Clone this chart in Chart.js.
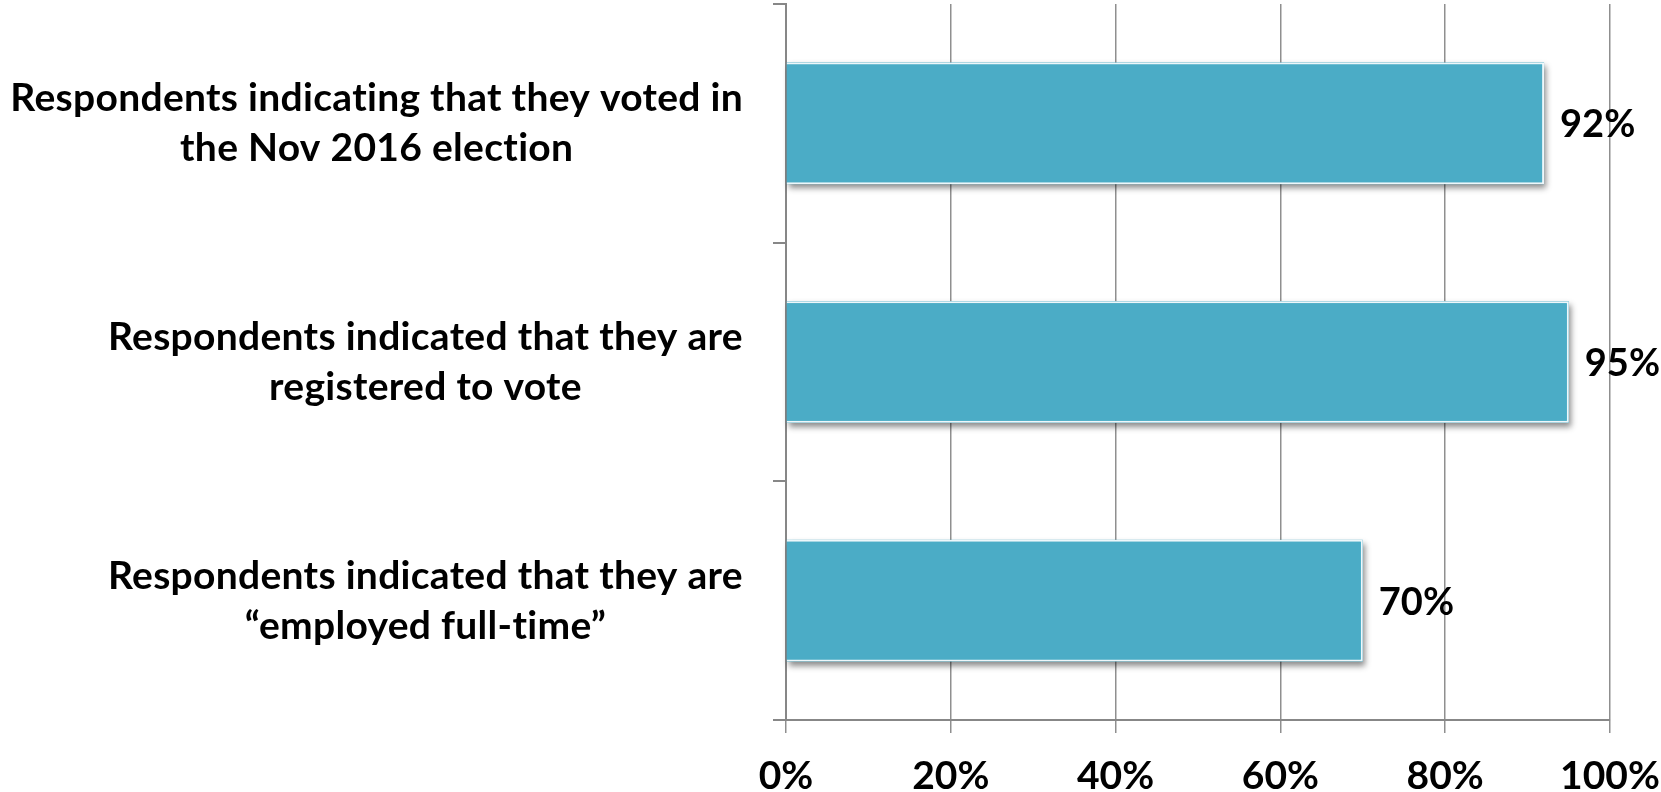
<!DOCTYPE html>
<html>
  <head>
    <title>Survey Respondents</title>
    <script src="https://cdn.jsdelivr.net/npm/chart.js"></script>
    <style>
      html, body { margin: 0; padding: 0; background: #fff; }
      #wrap { width: 1661px; height: 792px; }
    </style>
  </head>
  <body>
    <div id="wrap"><canvas id="surveyChart"></canvas></div>

    <script>
      // Category labels, one array of lines per bar
      var categories = [
        ['Respondents indicating that they voted in', 'the Nov 2016 election'],
        ['Respondents indicated that they are', 'registered to vote'],
        ['Respondents indicated that they are', '\u201Cemployed full-time\u201D']
      ];
      // Share of respondents, in percent
      var percentages = [92, 95, 70];
      // Value axis ticks
      var tickValues = [0, 20, 40, 60, 80, 100];

      var barColor = '#4BACC6';
      var gridColor = '#8f8f8f';
      var fontFamily = 'Lato, "Open Sans", sans-serif';

      // soft drop shadow under each bar
      var barShadow = {
        id: 'barShadow',
        beforeDatasetsDraw: function (chart) {
          var ctx = chart.ctx;
          ctx.save();
          ctx.shadowColor = 'rgba(0, 0, 0, 0.45)';
          ctx.shadowBlur = 6;
          ctx.shadowOffsetX = 2;
          ctx.shadowOffsetY = 4;
          ctx.fillStyle = barColor;
          chart.getDatasetMeta(0).data.forEach(function (bar) {
            var p = bar.getProps(['x', 'y', 'base', 'height'], true);
            ctx.fillRect(p.base, p.y - p.height / 2, p.x - p.base, p.height);
          });
          ctx.restore();
        }
      };

      // value labels to the right of the bars, category labels left of the axis
      var labelPlugin = {
        id: 'labelPlugin',
        afterDatasetsDraw: function (chart) {
          var ctx = chart.ctx;
          ctx.save();
          ctx.fillStyle = '#000';
          ctx.textAlign = 'left';
          ctx.textBaseline = 'alphabetic';
          ctx.font = 'bold 38px ' + fontFamily;
          chart.getDatasetMeta(0).data.forEach(function (bar, i) {
            var p = bar.getProps(['x', 'y'], true);
            ctx.fillText(percentages[i] + '%', p.x + 16, p.y + 14);
          });

          var yScale = chart.scales.y;
          var rightEdge = yScale.right - 43;
          var lineGap = 50;
          ctx.font = 'bold 39px ' + fontFamily;
          ctx.letterSpacing = '0.3px';
          ctx.textAlign = 'center';
          categories.forEach(function (lines, i) {
            var cy = yScale.getPixelForTick(i);
            var widest = 0;
            lines.forEach(function (l) {
              widest = Math.max(widest, ctx.measureText(l).width);
            });
            var cx = rightEdge - widest / 2;
            lines.forEach(function (l, j) {
              var ly = cy + (j - (lines.length - 1) / 2) * lineGap;
              ctx.fillText(l, cx, ly + 13);
            });
          });
          ctx.restore();
        }
      };

      var ctx = document.getElementById('surveyChart').getContext('2d');
      var surveyChart = new Chart(ctx, {
        type: 'bar',
        data: {
          labels: categories,
          datasets: [
            {
              data: percentages,
              backgroundColor: barColor,
              borderColor: '#eef7fa',
              borderWidth: 2,
              borderSkipped: 'start',
              categoryPercentage: 1,
              barPercentage: 0.51
            }
          ]
        },
        options: {
          indexAxis: 'y',
          responsive: true,
          maintainAspectRatio: false,
          animation: false,
          layout: { padding: { top: 4, right: 51, left: 0, bottom: 0 } },
          plugins: {
            legend: { display: false },
            tooltip: { enabled: false }
          },
          scales: {
            x: {
              min: 0,
              max: 100,
              afterBuildTicks: function (scale) {
                scale.ticks = tickValues.map(function (v) { return { value: v }; });
              },
              afterFit: function (scale) {
                scale.height = 72;
                scale.paddingLeft = 0;
                scale.paddingRight = 0;
              },
              grid: {
                color: gridColor,
                lineWidth: 1.5,
                drawTicks: true,
                tickLength: 13
              },
              border: { display: true, color: '#878787', width: 2 },
              ticks: {
                padding: 24,
                color: '#000',
                font: { family: fontFamily, size: 39, weight: 'bold', lineHeight: 1.0 },
                callback: function (v) { return v + '%'; }
              }
            },
            y: {
              afterFit: function (scale) { scale.width = 786; },
              grid: {
                offset: true,
                drawOnChartArea: false,
                drawTicks: true,
                tickLength: 13,
                color: '#878787',
                lineWidth: 2
              },
              border: { display: true, color: '#878787', width: 2 },
              ticks: { display: false }
            }
          }
        },
        plugins: [barShadow, labelPlugin]
      });
    </script>
  </body>
</html>
